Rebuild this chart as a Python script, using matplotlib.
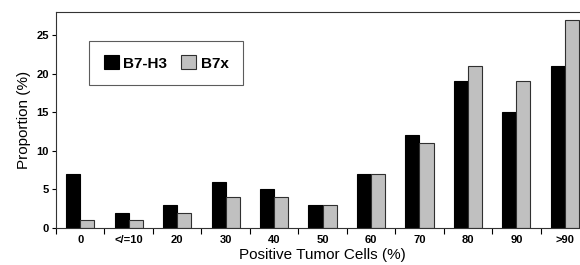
import numpy as np
import matplotlib.pyplot as plt

plt.rcParams['font.family'] = ['Liberation Sans', 'DejaVu Sans']

# data
categories = ['0', '</=10', '20', '30', '40', '50', '60', '70', '80', '90', '>90']
b7h3 = [7, 2, 3, 6, 5, 3, 7, 12, 19, 15, 21]
b7x = [1, 1, 2, 4, 4, 3, 7, 11, 21, 19, 27]

x = np.arange(len(categories))
w = 0.29

fig = plt.figure(figsize=(5.8, 2.65), dpi=100)
ax = fig.add_axes([0.0966, 0.1396, 0.919, 0.815])

ax.bar(x - w / 2, b7h3, w, color='black', edgecolor='black', linewidth=0.8, label='B7-H3')
ax.bar(x + w / 2, b7x, w, color='#c0c0c0', edgecolor='#303030', linewidth=0.8, label='B7x')

ax.set_xlim(-0.5, len(categories) - 0.5)
ax.set_ylim(0, 28)
ax.set_yticks([0, 5, 10, 15, 20, 25])

# ticks on category boundaries, labels centred
ax.set_xticks(np.arange(len(categories) + 1) - 0.5)
ax.set_xticklabels([])
ax.set_xticks(x, minor=True)
ax.set_xticklabels(categories, minor=True, fontsize=8, fontweight='bold')
ax.tick_params(axis='x', which='minor', length=0, pad=5)
ax.tick_params(axis='x', which='major', direction='out', length=4, width=0.8)
ax.tick_params(axis='y', direction='out', length=3, width=0.8, labelsize=8, pad=2)
for lbl in ax.get_yticklabels():
    lbl.set_fontweight('bold')

ax.spines['right'].set_visible(False)
for s in ['left', 'bottom', 'top']:
    ax.spines[s].set_linewidth(0.8)
    ax.spines[s].set_color('#333333')

ax.set_xlabel('Positive Tumor Cells (%)', fontsize=11, labelpad=2)
ax.set_ylabel('Proportion (%)', fontsize=11, labelpad=4)

leg = ax.legend(loc='upper left', bbox_to_anchor=(0.062, 0.866), ncol=2, frameon=True,
                fancybox=False, edgecolor='#333333', prop={'weight': 'bold', 'size': 11},
                handlelength=1.0, handleheight=1.0, handletextpad=0.3, columnspacing=0.9,
                borderpad=0.95, borderaxespad=0)
leg.get_frame().set_linewidth(0.8)

plt.savefig('out.png', dpi=100)
